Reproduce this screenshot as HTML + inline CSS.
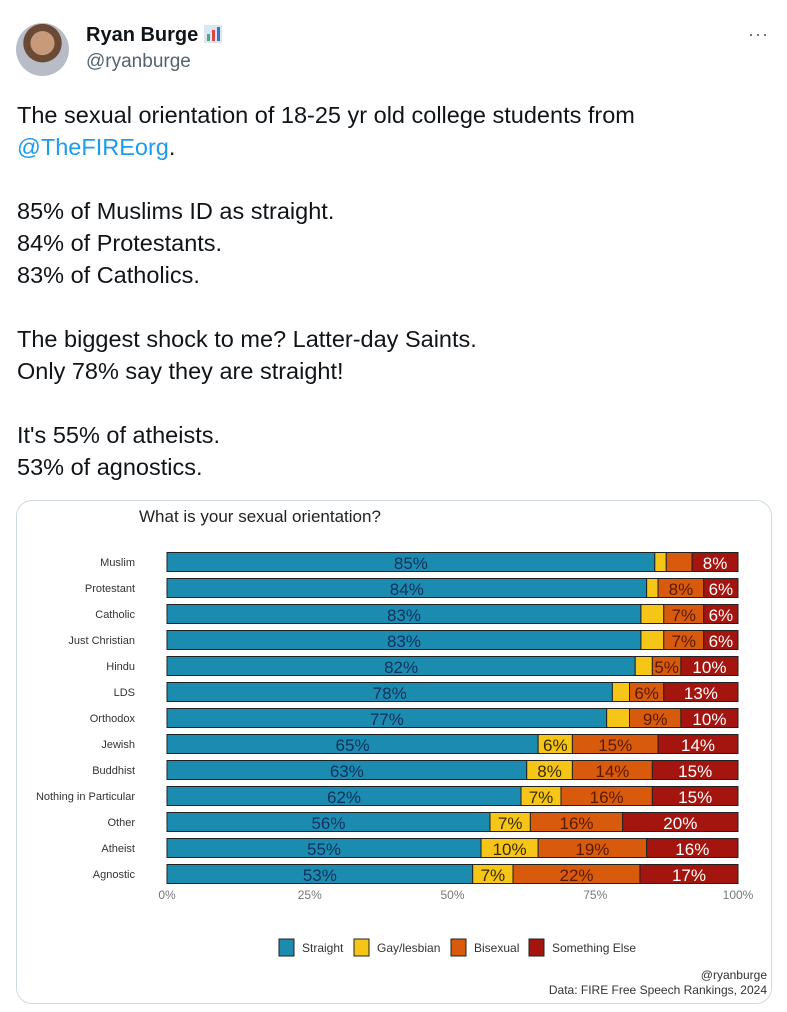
<!DOCTYPE html>
<html><head><meta charset="utf-8"><style>
body{margin:0;background:#fff;width:787px;height:1012px;overflow:hidden;font-family:"Liberation Sans",sans-serif;position:relative}
.abs{position:absolute}
.t{position:absolute;left:17px;font-size:23.5px;color:#0f1419;white-space:nowrap}
</style></head><body>
<div class="abs" style="left:16px;top:23px;width:53px;height:53px;border-radius:50%;background:radial-gradient(circle at 50% 38%,#c79a7a 0 28%,#6b4a35 29% 45%,#b7bcc7 46%)"></div>
<div class="abs" style="left:86px;top:24px;font-size:20px;font-weight:bold;color:#0f1419">Ryan Burge <span style="display:inline-block;width:18px;height:18px;background:#dbe6f0;vertical-align:-2px;position:relative"><span style="position:absolute;left:3px;bottom:2px;width:3px;height:7px;background:#4a8"></span><span style="position:absolute;left:8px;bottom:2px;width:3px;height:11px;background:#d44"></span><span style="position:absolute;left:13px;bottom:2px;width:3px;height:14px;background:#37c"></span></span></div>
<div class="abs" style="left:86px;top:51px;font-size:19px;color:#536471">@ryanburge</div>
<div class="abs" style="left:748px;top:24px;font-size:18px;color:#536471;letter-spacing:1px">···</div>
<div>
<div class="t" style="top:102px">The sexual orientation of 18-25 yr old college students from</div>
<div class="t" style="top:134px"><span style="color:#1d9bf0">@TheFIREorg</span>.</div>
<div class="t" style="top:198px">85% of Muslims ID as straight.</div>
<div class="t" style="top:230px">84% of Protestants.</div>
<div class="t" style="top:262px">83% of Catholics.</div>
<div class="t" style="top:326px">The biggest shock to me? Latter-day Saints.</div>
<div class="t" style="top:358px">Only 78% say they are straight!</div>
<div class="t" style="top:422px">It's 55% of atheists.</div>
<div class="t" style="top:454px">53% of agnostics.</div>
</div>
<div class="abs" style="left:16px;top:500px;width:754px;height:502px;border:1px solid #cfd9de;border-radius:16px;overflow:hidden">
<svg id="ch" width="754" height="502" style="font-family:'Liberation Sans',sans-serif"></svg>
</div>
<script>
const categories=["Muslim","Protestant","Catholic","Just Christian","Hindu","LDS","Orthodox","Jewish","Buddhist","Nothing in Particular","Other","Atheist","Agnostic"];
const straight=[85,84,83,83,82,78,77,65,63,62,56,55,53];
const gay=[2,2,4,4,3,3,4,6,8,7,7,10,7];
const bi=[4.5,8,7,7,5,6,9,15,14,16,16,19,22];
const other=[8,6,6,6,10,13,10,14,15,15,20,16,17];
const ticks=["0%","25%","50%","75%","100%"];
const seriesNames=["Straight","Gay/lesbian","Bisexual","Something Else"];
const colors=["#1b8cb0","#f5c518","#d85a0d","#a3150e"];
const textCol=["#13315c","#3a2a00","#5a1a00","#fff"];
const NS="http://www.w3.org/2000/svg",svg=document.getElementById('ch');
const X0=150,X1=721;
const x=v=>X0+(X1-X0)*v/100;
const y=i=>61+i*26;
function mk(t,a){const e=document.createElementNS(NS,t);for(const k in a)e.setAttribute(k,a[k]);svg.appendChild(e);return e;}
let e=mk('text',{x:122,y:21,'font-size':17,fill:'#222'});e.textContent="What is your sexual orientation?";


const series=[straight,gay,bi,other];
categories.forEach((c,i)=>{
  let l=mk('text',{x:118,y:y(i)+4,'font-size':11,'text-anchor':'end',fill:'#333'});l.textContent=c;
  
  
  const tot=series.reduce((s,a)=>s+a[i],0);let cum=0;
  series.forEach((a,k)=>{
    const v=a[i]*100/tot;
    const r=mk('rect',{x:x(cum),y:y(i)-9.5,width:x(cum+v)-x(cum),height:19,fill:colors[k],stroke:'#222','stroke-width':1});
    
    
    if(a[i]>=5){const t=mk('text',{x:(x(cum)+x(cum+v))/2,y:y(i)+7,'font-size':17,'text-anchor':'middle',fill:textCol[k]});t.textContent=Math.round(a[i])+"%";
      
      }
    cum+=v;
  });
});
ticks.forEach((t,j)=>{const e=mk('text',{x:x(j*25),y:398,'font-size':12,'text-anchor':'middle',fill:'#777'});e.textContent=t;
  
  });
const lx=[262,337,434,512];
seriesNames.forEach((n,k)=>{
  const r=mk('rect',{x:lx[k],y:438,width:15,height:17,fill:colors[k],stroke:'#222'});
  
  
  const t=mk('text',{x:lx[k]+23,y:451,'font-size':12,fill:'#333'});t.textContent=n;
  
  
});
e=mk('text',{x:750,y:478,'font-size':12,'text-anchor':'end',fill:'#333'});e.textContent="@ryanburge";


e=mk('text',{x:750,y:493,'font-size':12,'text-anchor':'end',fill:'#333'});e.textContent="Data: FIRE Free Speech Rankings, 2024";


</script>
</body></html>
